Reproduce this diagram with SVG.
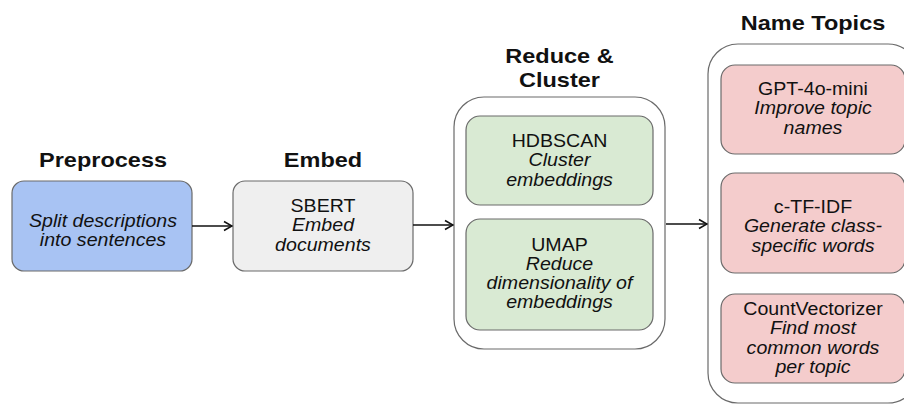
<svg xmlns="http://www.w3.org/2000/svg" width="904" height="405" viewBox="0 0 904 405">
<defs>
<style>
.t{font-family:"Liberation Sans",Arial,sans-serif;font-size:21px;font-weight:bold;fill:#111;text-anchor:middle}
.b{font-family:"Liberation Sans",Arial,sans-serif;font-size:17.5px;fill:#111;text-anchor:middle}
.i{font-style:italic}
.box{stroke:#6a6a6a;stroke-width:1.2}
.cont{fill:#fff;stroke:#6a6a6a;stroke-width:1.2}
.conn{stroke:#111;stroke-width:1.6;fill:none}
</style>
<marker id="ah" viewBox="0 0 12 12" refX="11" refY="6" markerWidth="12" markerHeight="12" markerUnits="userSpaceOnUse" orient="auto">
<path d="M3,1.5 L11,6 L3,10.5" fill="none" stroke="#111" stroke-width="1.6"/>
</marker>
</defs>
<rect width="904" height="405" fill="#fff"/>

<g id="preprocess">
<text class="t" transform="translate(103,167) scale(1.12,1)">Preprocess</text>
<rect class="box" x="12" y="181" width="180" height="90" rx="12" fill="#a8c3f3"/>
<text class="b i" transform="translate(103,227) scale(1.12,1)"><tspan x="0" y="0">Split descriptions</tspan><tspan x="0" y="19">into sentences</tspan></text>
</g>

<g id="embed">
<text class="t" transform="translate(323,167) scale(1.12,1)">Embed</text>
<rect class="box" x="233" y="181" width="180" height="90" rx="12" fill="#efefef"/>
<text class="b" transform="translate(323,212) scale(1.12,1)"><tspan x="0" y="0">SBERT</tspan><tspan class="i" x="0" y="19.5">Embed</tspan><tspan class="i" x="0" y="39">documents</tspan></text>
</g>

<g id="reduce-cluster">
<text class="t" transform="translate(559.5,63) scale(1.12,1)"><tspan x="0" y="0">Reduce &amp;</tspan><tspan x="0" y="24">Cluster</tspan></text>
<rect class="cont" x="454" y="97" width="211" height="252" rx="30"/>
<g id="hdbscan">
<rect class="box" x="466" y="116" width="187" height="89" rx="14" fill="#d9ead3"/>
<text class="b" transform="translate(559.5,147) scale(1.12,1)"><tspan x="0" y="0">HDBSCAN</tspan><tspan class="i" x="0" y="19.5">Cluster</tspan><tspan class="i" x="0" y="39">embeddings</tspan></text>
</g>
<g id="umap">
<rect class="box" x="466" y="219" width="187" height="111" rx="14" fill="#d9ead3"/>
<text class="b" transform="translate(559.5,251) scale(1.12,1)"><tspan x="0" y="0">UMAP</tspan><tspan class="i" x="0" y="19">Reduce</tspan><tspan class="i" x="0" y="38">dimensionality of</tspan><tspan class="i" x="0" y="57">embeddings</tspan></text>
</g>
</g>

<g id="name-topics">
<text class="t" transform="translate(813,30) scale(1.12,1)">Name Topics</text>
<rect class="cont" x="708" y="44" width="210" height="359" rx="30"/>
<g id="gpt">
<rect class="box" x="721" y="65" width="184" height="89" rx="14" fill="#f4cccc"/>
<text class="b" transform="translate(813,95) scale(1.12,1)"><tspan x="0" y="0">GPT-4o-mini</tspan><tspan class="i" x="0" y="19.5">Improve topic</tspan><tspan class="i" x="0" y="39">names</tspan></text>
</g>
<g id="ctfidf">
<rect class="box" x="721" y="173" width="184" height="100" rx="14" fill="#f4cccc"/>
<text class="b" transform="translate(813,213) scale(1.12,1)"><tspan x="0" y="0">c-TF-IDF</tspan><tspan class="i" x="0" y="19.5">Generate class-</tspan><tspan class="i" x="0" y="39">specific words</tspan></text>
</g>
<g id="countvec">
<rect class="box" x="721" y="294" width="184" height="89" rx="14" fill="#f4cccc"/>
<text class="b" transform="translate(813,315) scale(1.12,1)"><tspan x="0" y="0">CountVectorizer</tspan><tspan class="i" x="0" y="19.5">Find most</tspan><tspan class="i" x="0" y="39">common words</tspan><tspan class="i" x="0" y="58">per topic</tspan></text>
</g>
</g>

<g id="connectors">
<line class="conn" x1="192" y1="226" x2="232" y2="226" marker-end="url(#ah)"/>
<line class="conn" x1="413" y1="225" x2="453" y2="225" marker-end="url(#ah)"/>
<line class="conn" x1="666" y1="224" x2="707" y2="224" marker-end="url(#ah)"/>
</g>
</svg>
